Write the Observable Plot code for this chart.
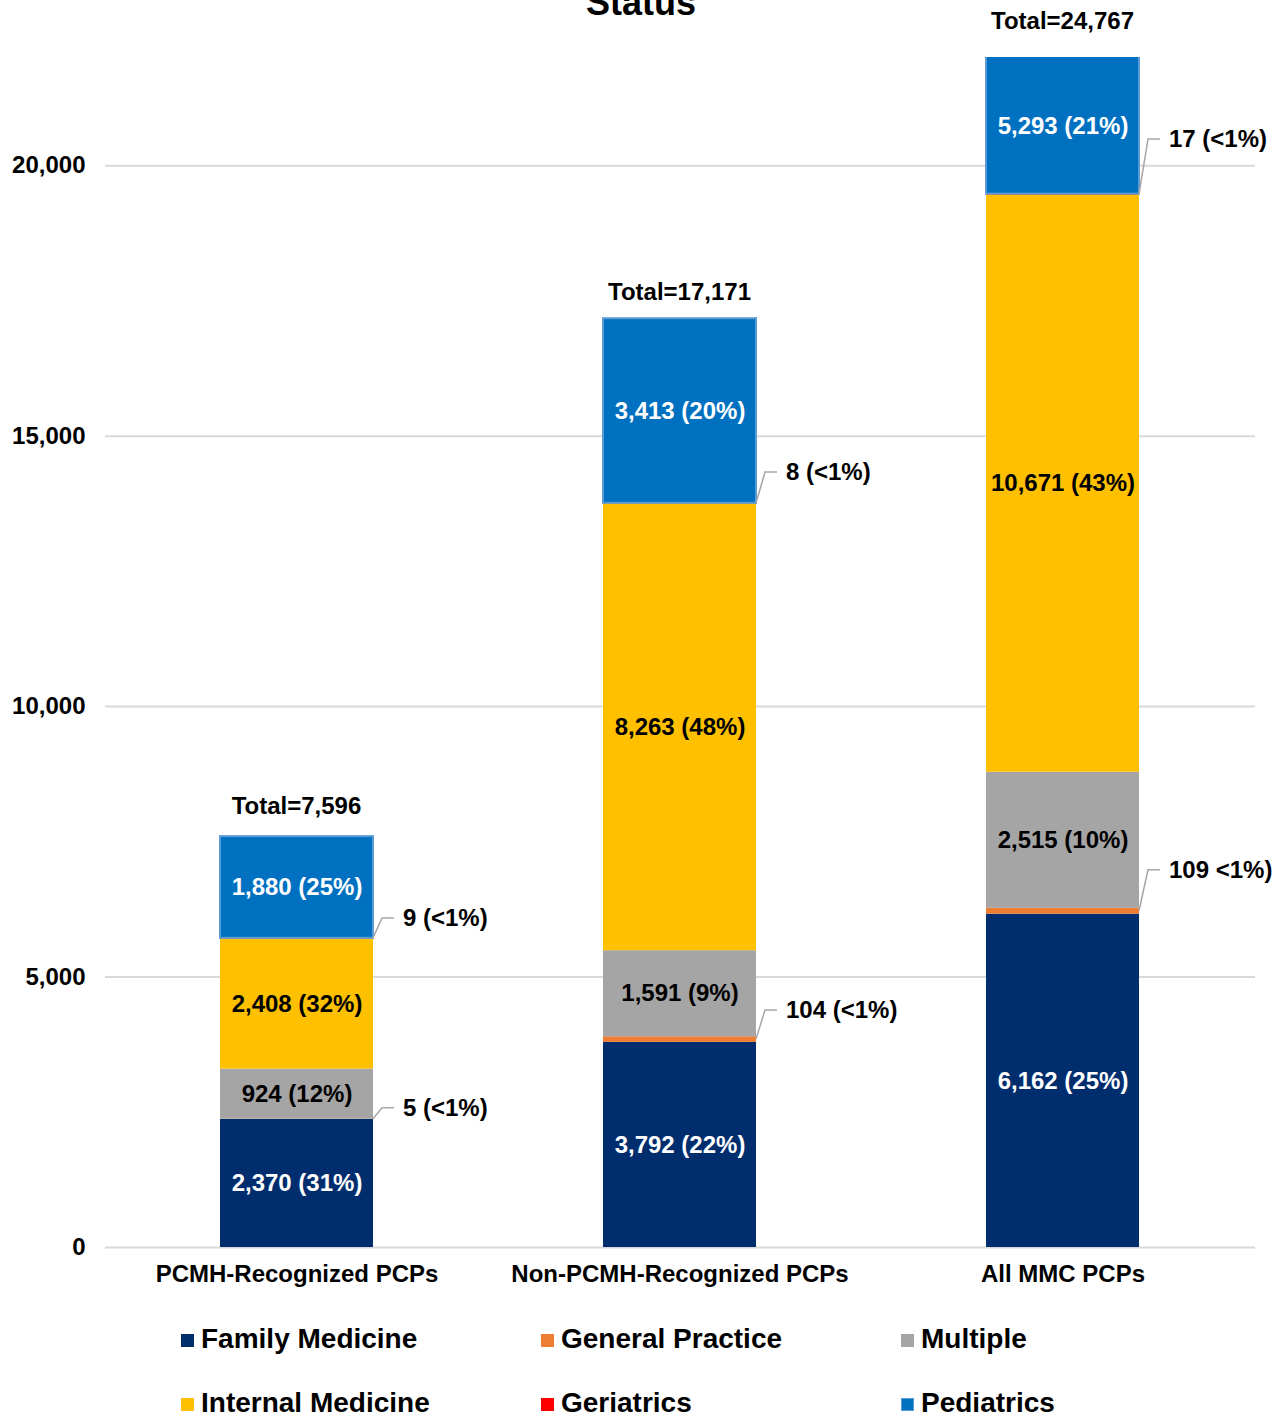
<!DOCTYPE html>
<html><head><meta charset="utf-8">
<script src="https://cdn.jsdelivr.net/npm/d3@7"></script>
<script src="https://cdn.jsdelivr.net/npm/@observablehq/plot@0.6"></script>
<style>
body{margin:0;background:#fff;font-family:"Liberation Sans",Arial,sans-serif;overflow:hidden;}
#wrap{position:relative;width:1282px;}
#title{position:absolute;left:0;width:1282px;top:-15px;text-align:center;font-weight:bold;font-size:36px;line-height:36px;color:#000;}
#legend{display:grid;grid-template-columns:360px 360px 360px;margin-left:181px;margin-top:7px;}
.item{height:64px;display:flex;align-items:center;font-weight:bold;font-size:28px;color:#000;}
.sw{width:13px;height:13px;margin-right:7px;margin-top:3px;box-sizing:border-box;}
</style></head><body>
<div id="wrap"><div id="chart"></div><div id="legend"></div><div id="title">Status</div></div>
<script>
// ---- data ----
const categories = ["PCMH-Recognized PCPs", "Non-PCMH-Recognized PCPs", "All MMC PCPs"];
const specialties = ["Family Medicine", "General Practice", "Multiple", "Internal Medicine", "Geriatrics", "Pediatrics"];
const familyMedicine   = [2370, 3792, 6162];
const generalPractice  = [5, 104, 109];
const multiple         = [924, 1591, 2515];
const internalMedicine = [2408, 8263, 10671];
const geriatrics       = [9, 8, 17];
const pediatrics       = [1880, 3413, 5293];
const generalPracticeLabels = ["5 (<1%)", "104 (<1%)", "109 <1%)"];
const geriatricsLabels      = ["9 (<1%)", "8 (<1%)", "17 (<1%)"];
const yTicks = [0, 5000, 10000, 15000, 20000];
const yMax = 22000;

// ---- styles ----
const colors = ["#002D6E", "#ED7D31", "#A5A5A5", "#FFC000", "#FF0000", "#0070C0"];
const whiteText = new Set(["Family Medicine", "Pediatrics"]);
// vertical lift (px) of the callout labels: [general practice, geriatrics] per category
const calloutLift = [[-11, -20], [-29, -31], [-41, -55]];
// vertical lift (px) of the total labels per category
const totalLift = [-31, -27, -36];

// ---- build table ----
const seriesValues = [familyMedicine, generalPractice, multiple, internalMedicine, geriatrics, pediatrics];
const fmt = d3.format(",");
const rows = [];
const totals = categories.map((c, i) => d3.sum(seriesValues, s => s[i]));
categories.forEach((cat, i) => {
  let acc = 0;
  specialties.forEach((s, k) => {
    const v = seriesValues[k][i];
    const pct = Math.round(v / totals[i] * 100);
    rows.push({cat, ci: i, series: s, value: v, y1: acc, y2: acc + v,
      label: `${fmt(v)} (${pct < 1 ? "<1" : pct}%)`});
    acc += v;
  });
});
const clipMid = d => (Math.min(d.y1, yMax) + Math.min(d.y2, yMax)) / 2;
const inside = rows.filter(d => !["General Practice", "Geriatrics"].includes(d.series));
const callRows = rows.filter(d => ["General Practice", "Geriatrics"].includes(d.series)).map(d => {
  const isGP = d.series === "General Practice";
  return {...d, text: isGP ? generalPracticeLabels[d.ci] : geriatricsLabels[d.ci], lift: calloutLift[d.ci][isGP ? 0 : 1]};
});

function callouts(index, scales) {
  const x = scales.x, y = scales.y;
  const bw = typeof x.bandwidth === "function" ? x.bandwidth() : x.bandwidth;
  const g = d3.create("svg:g");
  callRows.forEach(d => {
    const xr = x(d.cat) + bw;
    const ym = y((d.y1 + d.y2) / 2);
    const yl = ym + d.lift;
    g.append("path").attr("d", `M${xr},${ym}L${xr + 9},${yl}H${xr + 21}`)
      .attr("fill", "none").attr("stroke", "#A6A6A6").attr("stroke-width", 1.5);
    g.append("text").attr("x", xr + 30).attr("y", yl).attr("dy", "0.35em")
      .attr("text-anchor", "start")
      .attr("fill", "#000").attr("font-size", 24).attr("font-weight", "bold").text(d.text);
  });
  return g.node();
}

function totalLabels(index, scales) {
  const x = scales.x, y = scales.y;
  const bw = typeof x.bandwidth === "function" ? x.bandwidth() : x.bandwidth;
  const g = d3.create("svg:g");
  categories.forEach((c, i) => {
    g.append("text").attr("x", x(c) + bw / 2).attr("y", y(Math.min(totals[i], yMax)) + totalLift[i])
      .attr("dy", "0.35em").attr("text-anchor", "middle")
      .attr("fill", "#000").attr("font-size", 24).attr("font-weight", "bold")
      .text(`Total=${fmt(totals[i])}`);
  });
  return g.node();
}

const chart = Plot.plot({
  width: 1282, height: 1300,
  marginLeft: 105, marginRight: 27, marginTop: 57, marginBottom: 53,
  style: {fontFamily: "'Liberation Sans', Arial, sans-serif", fontSize: "24px", fontWeight: "bold", color: "#000", background: "#fff"},
  x: {domain: categories, paddingInner: 0.6, paddingOuter: 0.3},
  y: {domain: [0, yMax]},
  color: {domain: specialties, range: colors},
  marks: [
    Plot.gridY(yTicks, {stroke: "#D9D9D9", strokeOpacity: 1, strokeWidth: 2}),
    Plot.axisY({ticks: yTicks, tickFormat: fmt, tickSize: 0, tickPadding: 20, label: null}),
    Plot.axisX({tickSize: 0, tickPadding: 17, label: null}),
    Plot.barY(rows, {x: "cat", y1: "y1", y2: "y2", fill: "series", clip: true}),
    Plot.barY(rows.filter(d => d.series === "Pediatrics"), {x: "cat", y1: "y1", y2: "y2", fill: "#0070C0", stroke: "#5B9BD5", strokeWidth: 2, clip: true}),
    Plot.text(inside.filter(d => whiteText.has(d.series)), {x: "cat", y: clipMid, text: "label", fill: "#fff", fontSize: 24, fontWeight: "bold"}),
    Plot.text(inside.filter(d => !whiteText.has(d.series)), {x: "cat", y: clipMid, text: "label", fill: "#000", fontSize: 24, fontWeight: "bold"}),
    totalLabels,
    callouts
  ]
});
document.getElementById("chart").appendChild(chart);

const legend = document.getElementById("legend");
specialties.forEach((name, k) => {
  const it = document.createElement("div");
  it.className = "item";
  const sw = document.createElement("span");
  sw.className = "sw";
  sw.style.background = colors[k];
  if (name === "Pediatrics") sw.style.border = "1.5px solid #5B9BD5";
  it.appendChild(sw);
  const t = document.createElement("span");
  t.textContent = name;
  it.appendChild(t);
  legend.appendChild(it);
});
</script>
</body></html>
